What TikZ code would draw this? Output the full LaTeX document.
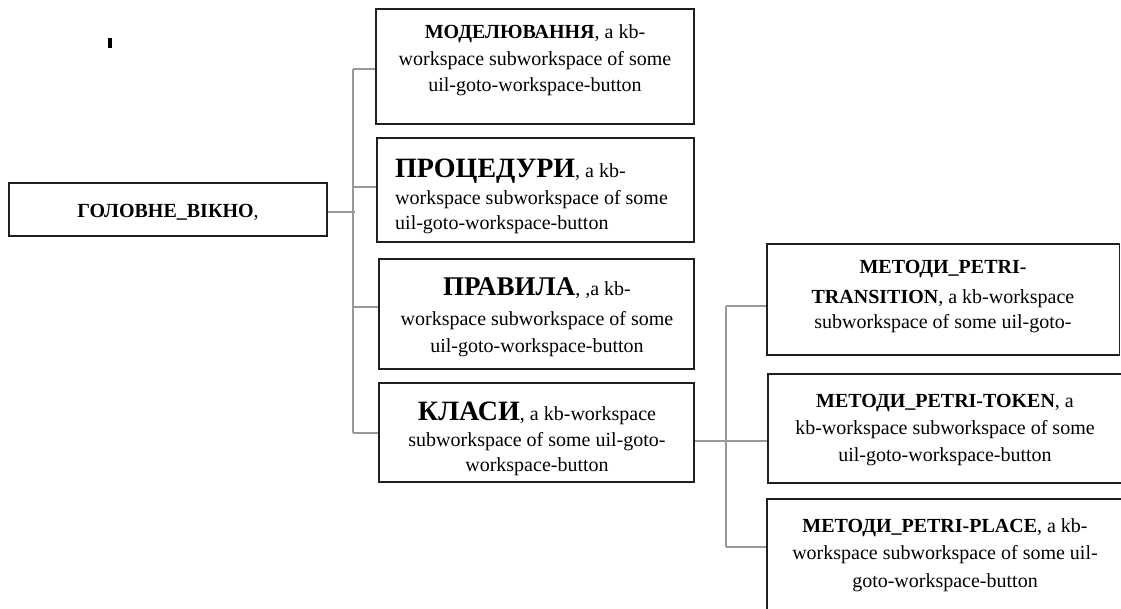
\documentclass[tikz,border=0pt]{standalone}
\usepackage{fontspec}
\setmainfont{Liberation Serif}
\begin{document}
\begin{tikzpicture}[x=1pt,y=-1pt,
  box/.style={draw=black!88, line width=1.3pt, inner sep=0pt},
  link/.style={draw=black!40, line width=1.4pt},
  ln/.style={anchor=base, inner sep=0pt, font=\fontsize{20}{24}\selectfont},
  lnl/.style={ln, anchor=base west},
  big/.style={font=\bfseries\fontsize{#1}{#1}\selectfont},
]
\useasboundingbox (0,0) rectangle (1121,608);

% junction points of the two trunks
\coordinate (tM) at (353,212);
\coordinate (tA) at (353,69);
\coordinate (tB) at (353,187);
\coordinate (tC) at (353,307);
\coordinate (tD) at (353,433);
\coordinate (uA) at (726,306);
\coordinate (uB) at (726,441);
\coordinate (uC) at (726,547);

% boxes
\node[box, minimum width=318pt, minimum height=53pt]  (main) at (168,209.5) {};
\node[box, minimum width=318pt, minimum height=115pt] (m1) at (535,66.5) {};
\node[box, minimum width=317pt, minimum height=104pt] (m2) at (535.5,190) {};
\node[box, minimum width=315pt, minimum height=110pt] (m3) at (536.5,314) {};
\node[box, minimum width=315pt, minimum height=99pt]  (m4) at (536.5,432.5) {};
\node[box, minimum width=352.5pt, minimum height=111pt] (m5) at (943.25,299.5) {};
\node[box, minimum width=362pt, minimum height=109pt] (m6) at (949,428.5) {};
\node[box, minimum width=363pt, minimum height=131pt] (m7) at (948.5,564.5) {};

% connectors
\draw[link] (main.east |- tM) -- ([xshift=2pt]tM);
\draw[link] (tA) -- (tD);
\draw[link] (tA) -- (tA -| m1.west);
\draw[link] (tB) -- (tB -| m2.west);
\draw[link] (tC) -- (tC -| m3.west);
\draw[link] (tD) -- (tD -| m4.west);
\draw[link] (m4.east |- uB) -- (uB -| m6.west);
\draw[link] (uA) -- (uC);
\draw[link] (uA) -- (uA -| m5.west);
\draw[link] (uC) -- (uC -| m7.west);

% small mark
\fill[black] (108,38) rectangle (112,48);

% texts
\node[ln] (t0) at (168,217) {\textbf{ГОЛОВНЕ\_ВІКНО},};

\node[ln] (t1a) at (535,38) {\textbf{МОДЕЛЮВАННЯ}, a kb-};
\node[ln] (t1b) at (535,65) {workspace subworkspace of some};
\node[ln] (t1c) at (535,91) {uil-goto-workspace-button};

\node[lnl] (t2a) at (395,177) {{\bfseries\fontsize{28}{28}\selectfont ПРОЦЕДУРИ}, a kb-};
\node[lnl] (t2b) at (395,204) {workspace subworkspace of some};
\node[lnl] (t2c) at (395,229) {uil-goto-workspace-button};

\node[ln] (t3a) at (537,295) {{\bfseries\fontsize{27}{27}\selectfont ПРАВИЛА}, ,a kb-};
\node[ln] (t3b) at (537,325) {workspace subworkspace of some};
\node[ln] (t3c) at (537,352) {uil-goto-workspace-button};

\node[ln] (t4a) at (537,420) {{\bfseries\fontsize{28}{28}\selectfont КЛАСИ}, a kb-workspace};
\node[ln] (t4b) at (537,446) {subworkspace of some uil-goto-};
\node[ln] (t4c) at (537,471) {workspace-button};

\node[ln] (t5a) at (943,273) {\textbf{МЕТОДИ\_PETRI-}};
\node[ln] (t5b) at (943,303) {\textbf{TRANSITION}, a kb-workspace};
\node[ln] (t5c) at (943,328) {subworkspace of some uil-goto-};

\node[ln] (t6a) at (945,407) {\textbf{МЕТОДИ\_PETRI-TOKEN}, a};
\node[ln] (t6b) at (945,434) {kb-workspace subworkspace of some};
\node[ln] (t6c) at (945,461) {uil-goto-workspace-button};

\node[ln] (t7a) at (945,532) {\textbf{МЕТОДИ\_PETRI-PLACE}, a kb-};
\node[ln] (t7b) at (945,559) {workspace subworkspace of some uil-};
\node[ln] (t7c) at (945,587) {goto-workspace-button};
\end{tikzpicture}
\end{document}
